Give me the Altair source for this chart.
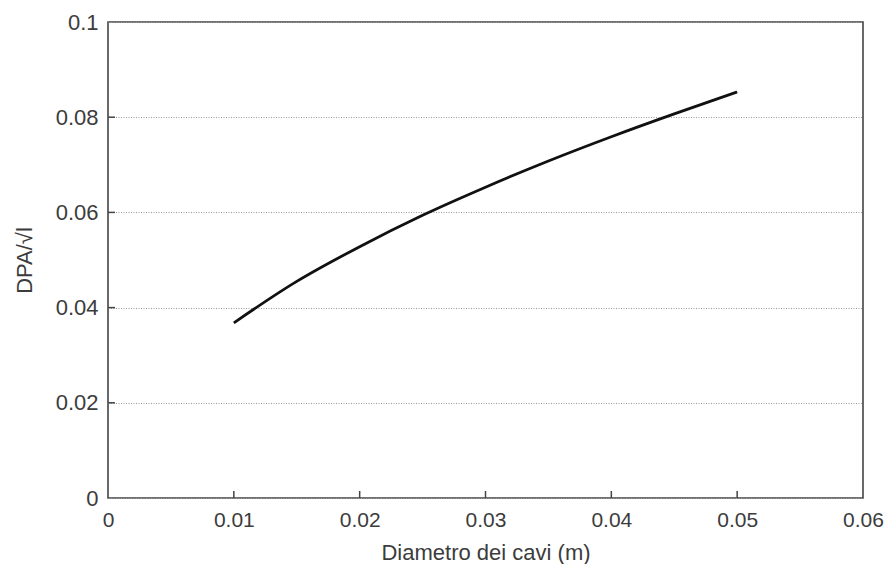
import altair as alt
import pandas as pd

# Data
diametro = [0.010, 0.015, 0.020, 0.025, 0.030, 0.035, 0.040, 0.045, 0.050]
dpa = [0.0368, 0.0455, 0.0528, 0.0594, 0.0653, 0.0708, 0.0759, 0.0807, 0.0853]

x_ticks = [0.0, 0.01, 0.02, 0.03, 0.04, 0.05, 0.06]
y_ticks = [0.0, 0.02, 0.04, 0.06, 0.08, 0.1]
x_inner_ticks = [0.01, 0.02, 0.03, 0.04, 0.05]
y_inner_ticks = [0.02, 0.04, 0.06, 0.08]

df = pd.DataFrame({"d": diametro, "v": dpa})
df_xt = pd.DataFrame({"d": x_inner_ticks})
df_yt = pd.DataFrame({"v": y_inner_ticks})

FONT = "Liberation Sans"
TXT = "#3c3c3c"
FS = 22

W, H = 755, 476

xscale = alt.Scale(domain=[0, 0.06], nice=False, zero=False)
yscale = alt.Scale(domain=[0, 0.1], nice=False, zero=False)

xaxis = alt.Axis(title="Diametro dei cavi (m)", values=x_ticks, format="~g",
                 grid=False, ticks=False, domain=False,
                 labelFont=FONT, labelFontSize=21, labelColor=TXT, labelPadding=11,
                 labelFlush=False,
                 titleFont=FONT, titleFontSize=FS, titleFontWeight="normal",
                 titleColor=TXT, titlePadding=12)
yaxis = alt.Axis(title="DPA/√l", values=y_ticks, format="~g",
                 grid=True, gridColor="#9a9a9a", gridDash=[1, 1.5], gridWidth=1.2,
                 ticks=False, domain=False,
                 labelFont=FONT, labelFontSize=FS, labelColor=TXT, labelPadding=10,
                 labelFlush=False,
                 titleFont=FONT, titleFontSize=FS, titleFontWeight="normal",
                 titleColor=TXT, titlePadding=19)

line = alt.Chart(df).mark_line(color="#111111", strokeWidth=2.8, interpolate="monotone").encode(
    x=alt.X("d:Q", scale=xscale, axis=xaxis),
    y=alt.Y("v:Q", scale=yscale, axis=yaxis),
)

xt = alt.Chart(df_xt).mark_rule(color="#444444", strokeWidth=1.5).encode(
    x=alt.X("d:Q", scale=xscale, axis=xaxis),
    y=alt.value(H), y2=alt.value(H - 7),
)

yt = alt.Chart(df_yt).mark_rule(color="#444444", strokeWidth=1.5).encode(
    y=alt.Y("v:Q", scale=yscale, axis=yaxis),
    x=alt.value(0), x2=alt.value(7),
)

chart = alt.layer(line, xt, yt).properties(
    width=W, height=H,
    autosize=alt.AutoSizeParams(type="none"),
    padding={"left": 100, "top": 14, "right": 22, "bottom": 66},
    background="white",
).configure_view(stroke="#444444", strokeWidth=1.6)

chart.save("out.html", embed_options={"renderer": "svg", "actions": False})
